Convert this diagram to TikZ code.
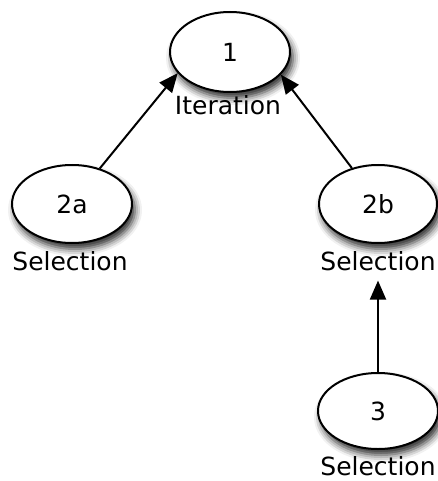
\documentclass[tikz,border=0pt]{standalone}
\usepackage{fontspec}
\setmainfont{DejaVu Sans}
\usetikzlibrary{shapes.geometric,arrows.meta,shadows.blur,calc}
\begin{document}
\begin{tikzpicture}[x=1pt,y=-1pt,
  state/.style={ellipse, draw=black, line width=2pt, fill=white, inner sep=0pt,
    minimum width=120pt, minimum height=78pt, font=\fontsize{25}{30}\selectfont,
    blur shadow={shadow xshift=3pt, shadow yshift=-6pt, shadow blur radius=7pt, shadow opacity=85}},
  lbl/.style={anchor=base, inner sep=0pt, font=\fontsize{25}{30}\selectfont},
  link/.style={line width=2pt, -{Triangle[length=19pt,width=16pt]}}]
\useasboundingbox (0,0) rectangle (437,481);
\node[state, minimum height=80pt] (n1) at (230,52) {1};
\node[lbl] (s1) at (228,115) {Iteration};
\node[state] (n2a) at (72,204) {2a};
\node[lbl] (s2a) at (70,270) {Selection};
\node[state, minimum width=118pt] (n2b) at (378,204) {2b};
\node[lbl] (s2b) at (378,270) {Selection};
\node[state, minimum height=76pt] (n3) at (378,411) {3};
\node[lbl] (s3) at (378,475) {Selection};
\coordinate (t3) at ($(s2b.south -| n3.north)+(0,10)$);
\draw[link] (n2a.52) -- (n1.202);
\draw[link] (n2b.126) -- (n1.336);
\draw[link] (n3.north) -- (t3);
\end{tikzpicture}
\end{document}
